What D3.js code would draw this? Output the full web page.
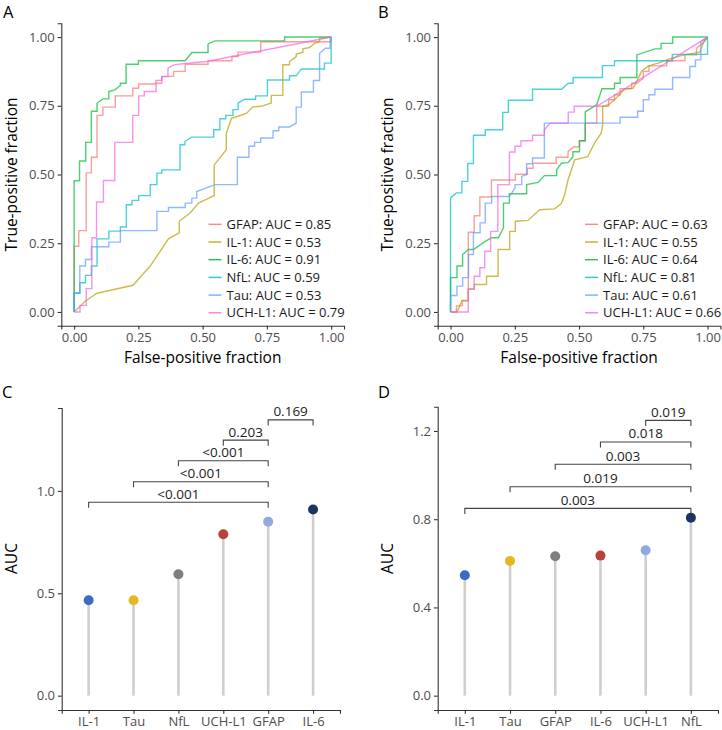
<!DOCTYPE html>
<html><head><meta charset="utf-8">
<script src="https://cdn.jsdelivr.net/npm/d3@7"></script>
<style>body{margin:0;background:#fff}svg{display:block;font-family:"Open Sans",sans-serif}</style>
</head><body>
<svg id="c" width="722" height="730"></svg>
<script>
// ---------- DATA ----------
const markers = ["GFAP","IL-1","IL-6","NfL","Tau","UCH-L1"];
const aucLabelsA = ["0.85","0.53","0.91","0.59","0.53","0.79"];
const aucLabelsB = ["0.63","0.55","0.64","0.81","0.61","0.66"];
const rocColors = ["#F8766D","#B79F00","#00BA38","#00BFC4","#619CFF","#F564E3"];

const rocA_GFAP = [[0,0],[0,0.239],[0.018,0.239],[0.018,0.296],[0.047,0.296],[0.047,0.506],[0.067,0.506],[0.067,0.563],[0.089,0.563],[0.089,0.715],[0.112,0.715],[0.112,0.745],[0.160,0.745],[0.160,0.786],[0.228,0.786],[0.228,0.814],[0.251,0.814],[0.251,0.829],[0.318,0.829],[0.318,0.842],[0.341,0.842],[0.341,0.857],[0.387,0.857],[0.387,0.875],[0.432,0.875],[0.432,0.901],[0.521,0.901],[0.521,0.914],[0.614,0.914],[0.614,0.929],[0.638,0.929],[0.638,0.945],[0.726,0.945],[0.726,0.983],[1,0.983],[1,1]];
const rocA_IL1 = [[0,0],[0.018,0.016],[0.044,0.04],[0.089,0.068],[0.229,0.097],[0.296,0.167],[0.367,0.266],[0.409,0.288],[0.409,0.33],[0.451,0.36],[0.484,0.396],[0.545,0.423],[0.545,0.535],[0.592,0.59],[0.592,0.65],[0.612,0.704],[0.631,0.71],[0.67,0.722],[0.696,0.746],[0.728,0.748],[0.767,0.76],[0.767,0.788],[0.812,0.788],[0.812,0.899],[0.838,0.899],[0.838,0.911],[0.864,0.929],[0.864,0.937],[0.890,0.945],[0.890,0.957],[0.916,0.962],[0.935,0.977],[0.955,0.983],[0.955,0.995],[1,1]];
const rocA_IL6 = [[0,0],[0,0.477],[0.021,0.477],[0.021,0.549],[0.045,0.549],[0.045,0.617],[0.067,0.617],[0.067,0.730],[0.089,0.730],[0.089,0.760],[0.112,0.775],[0.135,0.775],[0.135,0.802],[0.158,0.808],[0.180,0.824],[0.180,0.832],[0.202,0.832],[0.202,0.901],[0.250,0.901],[0.250,0.914],[0.432,0.914],[0.458,0.944],[0.521,0.944],[0.521,0.974],[0.547,0.986],[0.819,0.986],[0.819,1],[1,1]];
const rocA_NfL = [[0,0],[0,0.068],[0.022,0.068],[0.022,0.106],[0.044,0.106],[0.044,0.133],[0.067,0.133],[0.067,0.167],[0.089,0.167],[0.089,0.266],[0.135,0.266],[0.135,0.294],[0.180,0.294],[0.180,0.309],[0.203,0.309],[0.203,0.39],[0.225,0.39],[0.225,0.406],[0.251,0.406],[0.251,0.423],[0.296,0.423],[0.296,0.463],[0.322,0.463],[0.322,0.505],[0.341,0.505],[0.341,0.517],[0.412,0.517],[0.412,0.608],[0.431,0.608],[0.431,0.62],[0.457,0.636],[0.543,0.636],[0.543,0.663],[0.567,0.663],[0.567,0.703],[0.590,0.703],[0.590,0.715],[0.618,0.715],[0.618,0.736],[0.638,0.736],[0.638,0.760],[0.664,0.774],[0.706,0.774],[0.706,0.786],[0.752,0.786],[0.752,0.844],[0.838,0.844],[0.838,0.859],[0.864,0.859],[0.884,0.884],[0.974,0.884],[0.974,0.905],[1,0.905],[1,1]];
const rocA_Tau = [[0,0],[0,0.070],[0.022,0.070],[0.022,0.167],[0.044,0.167],[0.044,0.191],[0.067,0.191],[0.067,0.237],[0.135,0.237],[0.135,0.254],[0.180,0.254],[0.180,0.296],[0.322,0.296],[0.322,0.366],[0.367,0.366],[0.367,0.380],[0.432,0.380],[0.432,0.396],[0.458,0.396],[0.458,0.414],[0.477,0.414],[0.477,0.438],[0.548,0.463],[0.635,0.463],[0.635,0.563],[0.680,0.563],[0.680,0.603],[0.702,0.603],[0.702,0.617],[0.726,0.617],[0.726,0.633],[0.774,0.633],[0.774,0.659],[0.796,0.659],[0.796,0.673],[0.838,0.673],[0.864,0.687],[0.864,0.745],[0.884,0.745],[0.884,0.80],[0.931,0.80],[0.931,0.842],[0.955,0.842],[0.955,0.941],[0.978,0.959],[0.996,0.959],[0.996,1],[1,1]];
const rocA_UCHL1 = [[0,0],[0.023,0],[0.023,0.024],[0.047,0.024],[0.047,0.085],[0.069,0.085],[0.069,0.27],[0.087,0.27],[0.087,0.40],[0.114,0.40],[0.114,0.478],[0.158,0.478],[0.158,0.617],[0.228,0.617],[0.228,0.715],[0.251,0.715],[0.251,0.786],[0.273,0.786],[0.273,0.802],[0.319,0.802],[0.319,0.832],[0.341,0.832],[0.341,0.856],[0.365,0.856],[0.365,0.887],[0.387,0.899],[0.43,0.904],[0.516,0.911],[1,1]];

const rocB_GFAP = [[0,0],[0.023,0],[0.023,0.022],[0.045,0.022],[0.045,0.04],[0.069,0.04],[0.069,0.29],[0.092,0.29],[0.092,0.35],[0.114,0.35],[0.114,0.418],[0.159,0.418],[0.159,0.48],[0.252,0.48],[0.252,0.501],[0.299,0.501],[0.299,0.523],[0.321,0.523],[0.321,0.541],[0.411,0.541],[0.411,0.563],[0.457,0.563],[0.457,0.583],[0.479,0.601],[0.501,0.601],[0.501,0.623],[0.524,0.623],[0.524,0.687],[0.569,0.687],[0.569,0.748],[0.615,0.748],[0.615,0.772],[0.638,0.772],[0.638,0.79],[0.66,0.79],[0.66,0.812],[0.705,0.812],[0.705,0.832],[0.724,0.832],[0.75,0.85],[0.75,0.875],[0.772,0.875],[0.772,0.895],[0.841,0.895],[0.841,0.914],[0.912,0.914],[0.912,0.935],[0.957,0.935],[0.957,0.959],[0.98,0.977],[1,1]];
const rocB_IL1 = [[0,0],[0.025,0],[0.045,0.042],[0.069,0.042],[0.069,0.082],[0.092,0.082],[0.092,0.1],[0.14,0.1],[0.14,0.13],[0.185,0.13],[0.185,0.227],[0.23,0.227],[0.23,0.293],[0.252,0.293],[0.252,0.33],[0.301,0.333],[0.347,0.372],[0.405,0.375],[0.431,0.394],[0.444,0.426],[0.457,0.48],[0.483,0.553],[0.534,0.565],[0.56,0.614],[0.586,0.65],[0.592,0.68],[0.592,0.748],[0.615,0.754],[0.638,0.772],[0.679,0.812],[0.711,0.814],[0.724,0.838],[0.744,0.877],[0.77,0.895],[0.808,0.905],[0.86,0.923],[0.909,0.935],[0.97,0.945],[0.983,0.977],[1,1]];
const rocB_IL6 = [[0,0],[0,0.125],[0.025,0.125],[0.025,0.167],[0.047,0.167],[0.047,0.209],[0.07,0.227],[0.089,0.227],[0.135,0.257],[0.16,0.27],[0.186,0.27],[0.206,0.306],[0.206,0.396],[0.229,0.396],[0.229,0.43],[0.296,0.43],[0.296,0.463],[0.341,0.471],[0.365,0.496],[0.413,0.496],[0.413,0.517],[0.431,0.541],[0.457,0.543],[0.476,0.565],[0.476,0.583],[0.502,0.583],[0.502,0.623],[0.524,0.623],[0.524,0.728],[0.569,0.754],[0.589,0.812],[0.638,0.812],[0.638,0.832],[0.66,0.832],[0.66,0.853],[0.725,0.853],[0.725,0.935],[0.795,0.957],[0.819,0.957],[0.819,0.977],[0.864,0.977],[0.864,1],[1,1]];
const rocB_NfL = [[0,0],[0,0.414],[0.022,0.433],[0.044,0.433],[0.044,0.475],[0.067,0.475],[0.067,0.54],[0.089,0.54],[0.089,0.643],[0.135,0.643],[0.135,0.663],[0.203,0.663],[0.203,0.726],[0.225,0.726],[0.225,0.770],[0.319,0.770],[0.319,0.81],[0.432,0.81],[0.458,0.832],[0.477,0.832],[0.477,0.853],[0.591,0.853],[0.591,0.896],[0.638,0.896],[0.638,0.914],[0.863,0.914],[0.863,0.937],[1,0.937],[1,1]];
const rocB_Tau = [[0,0],[0,0.06],[0.025,0.06],[0.025,0.094],[0.047,0.094],[0.047,0.125],[0.07,0.125],[0.07,0.209],[0.089,0.209],[0.089,0.288],[0.115,0.288],[0.115,0.324],[0.135,0.324],[0.135,0.396],[0.16,0.396],[0.16,0.42],[0.229,0.42],[0.251,0.451],[0.251,0.463],[0.277,0.463],[0.277,0.493],[0.296,0.5],[0.296,0.539],[0.319,0.539],[0.319,0.56],[0.365,0.56],[0.365,0.687],[0.66,0.687],[0.66,0.708],[0.728,0.708],[0.728,0.73],[0.75,0.73],[0.75,0.772],[0.772,0.772],[0.772,0.79],[0.795,0.79],[0.795,0.81],[0.864,0.81],[0.864,0.853],[0.931,0.853],[0.931,0.893],[0.953,0.893],[0.953,0.917],[0.974,0.917],[0.974,0.983],[1,1]];
const rocB_UCHL1 = [[0,0],[0.069,0],[0.069,0.085],[0.092,0.085],[0.092,0.13],[0.114,0.13],[0.114,0.161],[0.133,0.161],[0.133,0.221],[0.156,0.221],[0.156,0.293],[0.184,0.293],[0.184,0.463],[0.229,0.463],[0.229,0.582],[0.251,0.582],[0.251,0.603],[0.274,0.603],[0.274,0.623],[0.319,0.623],[0.319,0.643],[0.365,0.643],[0.365,0.663],[0.387,0.687],[0.458,0.687],[0.458,0.727],[0.481,0.727],[0.481,0.748],[0.569,0.748],[1,1]];

const rocTicks = [0, 0.25, 0.5, 0.75, 1];

const catsC = ["IL-1","Tau","NfL","UCH-L1","GFAP","IL-6"];
const aucC  = [0.466, 0.466, 0.593, 0.788, 0.850, 0.909];
const bracketsC = [["IL-1","GFAP",0.945,"<0.001"],["Tau","GFAP",1.045,"<0.001"],["NfL","GFAP",1.147,"<0.001"],["UCH-L1","GFAP",1.248,"0.203"],["GFAP","IL-6",1.347,"0.169"]];
const ticksC = [0, 0.5, 1.0];

const catsD = ["IL-1","Tau","GFAP","IL-6","UCH-L1","NfL"];
const aucD  = [0.546, 0.611, 0.632, 0.635, 0.659, 0.807];
const bracketsD = [["IL-1","NfL",0.849,"0.003"],["Tau","NfL",0.947,"0.019"],["GFAP","NfL",1.049,"0.003"],["IL-6","NfL",1.150,"0.018"],["UCH-L1","NfL",1.248,"0.019"]];
const ticksD = [0, 0.4, 0.8, 1.2];

const rankColors = ["#3b6cc2","#e5b821","#7f7f7f","#b5443d","#8eaae0","#1d3461"];

// ---------- DRAW ----------
const svg = d3.select("#c");
const txtCol = "#4d4d4d", axCol = "#333";
const tickFS = "13px", titleFS = "15.5px", labFS = "16.5px";

function styleAxis(g){
  g.select(".domain").attr("stroke", axCol).attr("stroke-width", 1.1);
  g.selectAll(".tick line").attr("stroke", axCol).attr("stroke-width", 1.1);
  g.selectAll(".tick text").attr("fill", txtCol).style("font-size",tickFS).style("font-family","'Open Sans',sans-serif");
}

function rocPanel(cfg){
  const x = d3.scaleLinear().domain([-0.05,1.05]).range([cfg.x0, cfg.x1]);
  const y = d3.scaleLinear().domain([-0.05,1.05]).range([cfg.y1, cfg.y0]);
  const line = d3.line().x(d=>x(d[0])).y(d=>y(d[1]));
  const g = svg.append("g");
  cfg.series.forEach((s,i)=>{
    g.append("path").datum(s).attr("d", line).attr("fill","none")
      .attr("stroke", rocColors[i]).attr("stroke-opacity",0.7).attr("stroke-width",1.4);
  });
  const xa = g.append("g").attr("transform",`translate(0,${cfg.y1})`)
    .call(d3.axisBottom(x).tickValues(rocTicks).tickFormat(d3.format(".2f")).tickSize(3.7).tickPadding(3));
  styleAxis(xa);
  const ya = g.append("g").attr("transform",`translate(${cfg.x0},0)`)
    .call(d3.axisLeft(y).tickValues(rocTicks).tickFormat(d3.format(".2f")).tickSize(3.7).tickPadding(3));
  styleAxis(ya);
  g.append("text").attr("x",(cfg.x0+cfg.x1)/2).attr("y",cfg.y1+37).attr("text-anchor","middle")
    .style("font-size",titleFS).text("False-positive fraction");
  g.append("text").attr("transform",`translate(${cfg.x0-44.5},${(cfg.y0+cfg.y1)/2}) rotate(-90)`)
    .attr("text-anchor","middle").style("font-size",titleFS).text("True-positive fraction");
  g.append("text").attr("x",cfg.lx).attr("y",17.8).style("font-size",labFS).text(cfg.label);
  // legend
  const lg = g.append("g");
  markers.forEach((m,i)=>{
    const yy = cfg.legY + i*17.7;
    lg.append("line").attr("x1",cfg.legX).attr("x2",cfg.legX+13).attr("y1",yy).attr("y2",yy)
      .attr("stroke",rocColors[i]).attr("stroke-opacity",0.85).attr("stroke-width",1.4);
    lg.append("text").attr("x",cfg.legX+18).attr("y",yy).attr("dy","0.35em")
      .style("font-size",tickFS).attr("fill","#1a1a1a").text(`${m}: AUC = ${cfg.auc[i]}`);
  });
}

rocPanel({x0:61.3,x1:344,y0:23.3,y1:325.7,label:"A",lx:3,legX:208.5,legY:224.3,auc:aucLabelsA,
  series:[rocA_GFAP,rocA_IL1,rocA_IL6,rocA_NfL,rocA_Tau,rocA_UCHL1]});
rocPanel({x0:437.7,x1:720.4,y0:23.3,y1:325.7,label:"B",lx:378,legX:585,legY:224.3,auc:aucLabelsB,
  series:[rocB_GFAP,rocB_IL1,rocB_IL6,rocB_NfL,rocB_Tau,rocB_UCHL1]});

function lolliPanel(cfg){
  const x = d3.scalePoint().domain(cfg.cats).range([cfg.x0,cfg.x1]).padding(0.6);
  const y = d3.scaleLinear().domain(cfg.dom).range([cfg.y1,cfg.y0]);
  const g = svg.append("g");
  cfg.cats.forEach((c,i)=>{
    g.append("line").attr("x1",x(c)).attr("x2",x(c)).attr("y1",y(0)).attr("y2",y(cfg.vals[i]))
      .attr("stroke","#cfcfcf").attr("stroke-width",2.6);
  });
  cfg.cats.forEach((c,i)=>{
    g.append("circle").attr("cx",x(c)).attr("cy",y(cfg.vals[i])).attr("r",5).attr("fill",rankColors[i]);
  });
  cfg.br.forEach(b=>{
    const xa=x(b[0]), xb=x(b[1]), yy=y(b[2]);
    g.append("path").attr("d",`M${xa},${yy+5.5}V${yy}H${xb}V${yy+5.5}`)
      .attr("fill","none").attr("stroke","#444").attr("stroke-width",1.1);
    g.append("text").attr("x",(xa+xb)/2).attr("y",yy-3.5).attr("text-anchor","middle")
      .style("font-size","13.5px").attr("fill","#222").text(b[3]);
  });
  const xa = g.append("g").attr("transform",`translate(0,${cfg.y1})`)
    .call(d3.axisBottom(x).tickSize(3.7).tickPadding(3));
  styleAxis(xa);
  const ya = g.append("g").attr("transform",`translate(${cfg.x0},0)`)
    .call(d3.axisLeft(y).tickValues(cfg.ticks).tickFormat(d3.format(".1f")).tickSize(3.7).tickPadding(3));
  styleAxis(ya);
  g.append("text").attr("transform",`translate(${cfg.x0-44.5},558.5) rotate(-90)`)
    .attr("text-anchor","middle").style("font-size",titleFS).text("AUC");
  g.append("text").attr("x",cfg.lx).attr("y",397.5).style("font-size",labFS).text(cfg.label);
}

lolliPanel({x0:61.7,x1:340,y0:408,y1:710,dom:[-0.07,1.405],cats:catsC,vals:aucC,br:bracketsC,ticks:ticksC,label:"C",lx:2});
lolliPanel({x0:437.7,x1:718,y0:406.7,y1:710,dom:[-0.065,1.31],cats:catsD,vals:aucD,br:bracketsD,ticks:ticksD,label:"D",lx:378});
</script>
</body></html>
